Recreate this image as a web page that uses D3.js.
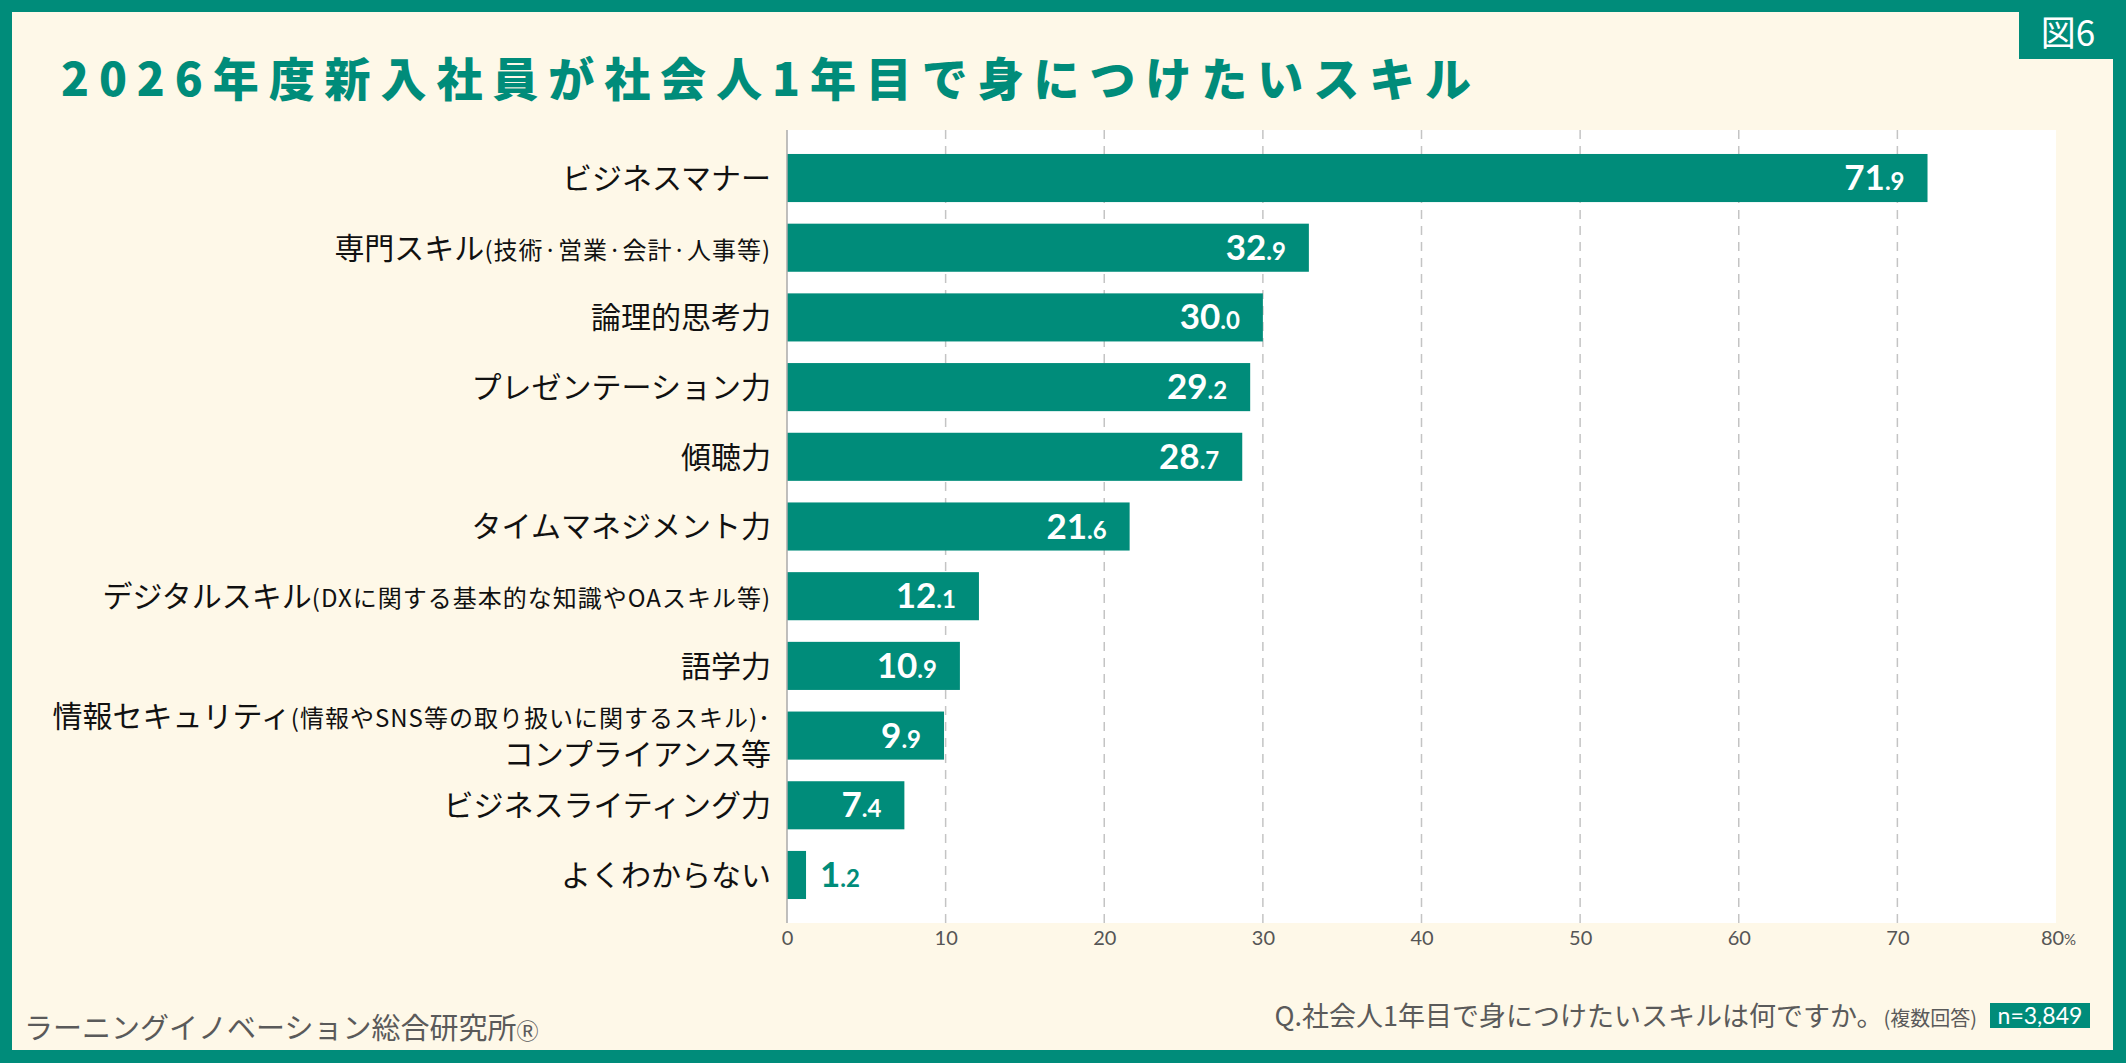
<!DOCTYPE html>
<html>
<head>
<meta charset="utf-8">
<script src="https://cdn.jsdelivr.net/npm/d3@7"></script>
<style>
  body { margin: 0; background: #fff; }
  svg { display: block; }
</style>
</head>
<body>
<div class="canva"></div>
<script>
// data
const skills = [
  "ビジネスマナー",
  "専門スキル",
  "論理的思考力",
  "プレゼンテーション力",
  "傾聴力",
  "タイムマネジメント力",
  "デジタルスキル",
  "語学力",
  "情報セキュリティ",
  "ビジネスライティング力",
  "よくわからない"
];
const notes = [
  "", "(技術·営業·会計·人事等)", "", "", "", "",
  "(DXに関する基本的な知識やOAスキル等)", "",
  "(情報やSNS等の取り扱いに関するスキル)･", "", ""
];
const secondLines = ["", "", "", "", "", "", "", "", "コンプライアンス等", "", ""];
const rates = [71.9, 32.9, 30.0, 29.2, 28.7, 21.6, 12.1, 10.9, 9.9, 7.4, 1.2];
const tickValues = [0, 10, 20, 30, 40, 50, 60, 70, 80];

const W = 2126, H = 1063;
const teal = "#008c7a";
const cream = "#fef8e8";
const jp = "'Noto Sans CJK JP', 'Noto Sans', sans-serif";
const num = "Lato, 'Noto Sans', sans-serif";

const svg = d3.select(".canva").append("svg")
  .attr("width", W)
  .attr("height", H);

// frame
svg.append("rect").attr("width", W).attr("height", H).attr("fill", teal);
svg.append("rect")
  .attr("x", 12).attr("y", 12)
  .attr("width", W - 12 - 13).attr("height", H - 12 - 13)
  .attr("fill", cream);

// figure tab
svg.append("rect")
  .attr("x", 2019).attr("y", 0)
  .attr("width", W - 2019).attr("height", 59)
  .attr("fill", teal);
svg.append("text")
  .attr("x", 2068).attr("y", 46)
  .attr("text-anchor", "middle")
  .attr("font-family", jp)
  .attr("font-size", 35)
  .attr("fill", "#fff")
  .text("図6");

// title
svg.append("text")
  .attr("x", 61).attr("y", 96)
  .attr("font-family", jp)
  .attr("font-weight", 900)
  .attr("font-size", 46)
  .attr("fill", teal)
  .attr("textLength", 1410)
  .attr("lengthAdjust", "spacing")
  .text("2026年度新入社員が社会人1年目で身につけたいスキル");

// plot area
const plot = {left: 787, right: 2056, top: 130, bottom: 923};

const x = d3.scaleLinear().domain([0, 80]).range([plot.left, plot.right]);
const y = d3.scaleBand()
  .domain(d3.range(skills.length))
  .range([plot.top, plot.bottom])
  .paddingInner(0.31)
  .paddingOuter(0.344);

svg.append("rect")
  .attr("x", plot.left).attr("y", plot.top)
  .attr("width", plot.right - plot.left)
  .attr("height", plot.bottom - plot.top)
  .attr("fill", "#fff");

// dashed grid
svg.append("g")
  .selectAll("line")
  .data(tickValues.filter(d => d > 0 && d < 80))
  .join("line")
  .attr("x1", d => x(d)).attr("x2", d => x(d))
  .attr("y1", plot.top).attr("y2", plot.bottom)
  .attr("stroke", "#c4c4c4")
  .attr("stroke-width", 1.5)
  .attr("stroke-dasharray", "9,7");

// x axis
const xAxis = d3.axisBottom(x)
  .tickValues(tickValues)
  .tickSize(0)
  .tickPadding(0)
  .tickFormat(d => d);
const ax = svg.append("g")
  .attr("transform", `translate(0, ${plot.bottom})`)
  .call(xAxis);
ax.select(".domain").remove();
ax.selectAll("text")
  .attr("y", 22)
  .attr("dy", 0)
  .attr("font-family", num)
  .attr("font-weight", 400)
  .attr("font-size", 20)
  .attr("fill", "#555");
ax.selectAll(".tick").filter(d => d === 80).select("text")
  .attr("dx", 2)
  .append("tspan")
  .attr("font-size", 15)
  .text("%");

// bars
svg.append("g")
  .selectAll("rect")
  .data(rates)
  .join("rect")
  .attr("x", x(0))
  .attr("y", (d, i) => y(i))
  .attr("width", d => x(d) - x(0))
  .attr("height", y.bandwidth())
  .attr("fill", teal);

// y axis line
svg.append("line")
  .attr("x1", plot.left).attr("x2", plot.left)
  .attr("y1", plot.top).attr("y2", plot.bottom)
  .attr("stroke", "#aaa")
  .attr("stroke-width", 1.5);

// value labels
const vals = svg.append("g")
  .selectAll("text")
  .data(rates)
  .join("text")
  .attr("font-family", num)
  .attr("font-weight", 700)
  .attr("y", (d, i) => y(i) + y.bandwidth() / 2 + 12)
  .attr("x", d => x(d) - x(0) > 60 ? x(d) - 23 : x(d) + 14)
  .attr("text-anchor", d => x(d) - x(0) > 60 ? "end" : "start")
  .attr("fill", d => x(d) - x(0) > 60 ? "#fff" : teal);
vals.append("tspan")
  .attr("font-size", 35)
  .text(d => Math.floor(d));
vals.append("tspan")
  .attr("font-size", 24)
  .text(d => "." + Math.round((d % 1) * 10));

// category labels
const labels = svg.append("g")
  .selectAll("text")
  .data(skills)
  .join("text")
  .attr("x", 771)
  .attr("y", (d, i) => y(i) + y.bandwidth() / 2 + (secondLines[i] ? -19 : 0))
  .attr("dy", "0.36em")
  .attr("text-anchor", "end")
  .attr("font-family", jp)
  .attr("font-size", 30)
  .attr("fill", "#111");
labels.append("tspan").text(d => d);
labels.append("tspan")
  .attr("font-size", 24)
  .attr("letter-spacing", 1)
  .text((d, i) => notes[i]);

svg.append("g")
  .selectAll("text")
  .data(secondLines.map((t, i) => ({t, i})).filter(d => d.t))
  .join("text")
  .attr("x", 771)
  .attr("y", d => y(d.i) + y.bandwidth() / 2 + 19)
  .attr("dy", "0.36em")
  .attr("text-anchor", "end")
  .attr("font-family", jp)
  .attr("font-size", 30)
  .attr("fill", "#111")
  .text(d => d.t);

// footer
svg.append("text")
  .attr("x", 24).attr("y", 1039)
  .attr("font-family", jp)
  .attr("font-size", 29)
  .attr("fill", "#5a5a5a")
  .text("ラーニングイノベーション総合研究所")
  .append("tspan")
  .attr("font-size", 22)
  .text("Ⓡ");

const q = svg.append("text")
  .attr("x", 1977).attr("y", 1026)
  .attr("text-anchor", "end")
  .attr("font-family", jp)
  .attr("font-size", 27)
  .attr("fill", "#5a5a5a");
q.append("tspan").text("Q.社会人1年目で身につけたいスキルは何ですか。");
q.append("tspan").attr("font-size", 20).text("(複数回答)");

svg.append("rect")
  .attr("x", 1990).attr("y", 1003)
  .attr("width", 100).attr("height", 25)
  .attr("fill", teal);
svg.append("text")
  .attr("x", 2040).attr("y", 1024)
  .attr("text-anchor", "middle")
  .attr("font-family", num)
  .attr("font-size", 23)
  .attr("fill", "#fff")
  .text("n=3,849");
</script>
</body>
</html>
